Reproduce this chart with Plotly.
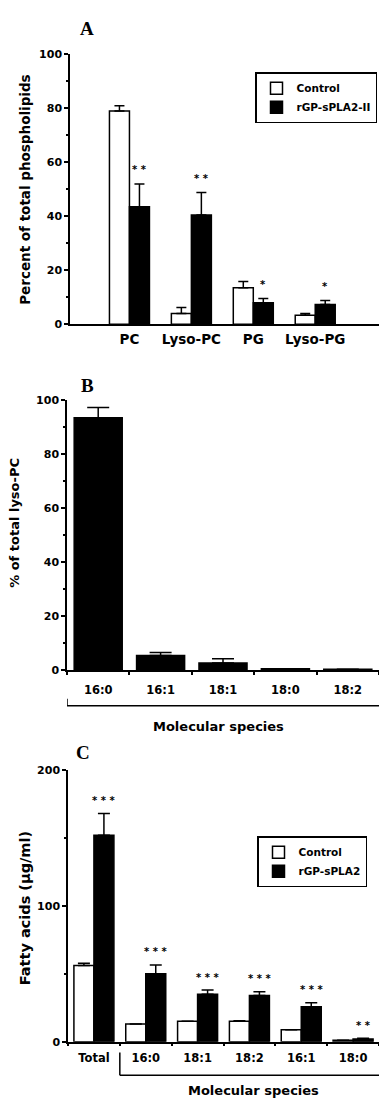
import plotly.graph_objects as go

# ---------------- data ----------------
catsA = ["PC", "Lyso-PC", "PG", "Lyso-PG"]
controlA = [79, 4, 13.5, 3.3]
controlA_err = [2, 2.2, 2.3, 0.7]
rgpA = [43.5, 40.5, 8, 7.3]
rgpA_err = [8.5, 8.3, 1.5, 1.5]
sigA = ["* *", "* *", "*", "*"]

catsB = ["16:0", "16:1", "18:1", "18:0", "18:2"]
valsB = [93.5, 5.4, 2.6, 0.5, 0.3]
errB = [3.8, 1.1, 1.6, 0, 0]

catsC = ["Total", "16:0", "18:1", "18:2", "16:1", "18:0"]
controlC = [56, 13, 15, 15, 8.7, 1]
controlC_err = [1.7, 0, 0, 0.5, 0, 0]
rgpC = [152, 50, 35, 34, 25.7, 2]
rgpC_err = [16, 6.5, 3, 2.7, 3, 0.5]
sigC = ["* * *", "* * *", "* * *", "* * *", "* * *", "* *"]

W, H = 379, 1107
SANS = "DejaVu Sans"
SERIF = "Liberation Serif"
BLACK = "black"

def bf(size, family=SANS):
    return dict(family=family, size=size, color=BLACK, weight="bold")

fig = go.Figure()

# ---------------- panel A ----------------
wA = 0.323
fig.add_trace(go.Bar(
    x=catsA, y=controlA, name="Control", xaxis="x", yaxis="y",
    width=wA, offset=-wA, marker=dict(color="white", line=dict(color=BLACK, width=1.5)),
    error_y=dict(type="data", symmetric=False, array=controlA_err, arrayminus=[0]*4,
                 color=BLACK, thickness=1.5, width=5),
    legend="legend"))
fig.add_trace(go.Bar(
    x=catsA, y=rgpA, name="rGP-sPLA2-II", xaxis="x", yaxis="y",
    width=wA, offset=0, marker=dict(color=BLACK, line=dict(color=BLACK, width=1.5)),
    error_y=dict(type="data", symmetric=False, array=rgpA_err, arrayminus=[0]*4,
                 color=BLACK, thickness=1.5, width=5),
    legend="legend"))

# ---------------- panel B ----------------
fig.add_trace(go.Bar(
    x=catsB, y=valsB, name="lyso-PC", xaxis="x2", yaxis="y2", showlegend=False,
    width=0.77, marker=dict(color=BLACK, line=dict(color=BLACK, width=1.5)),
    error_y=dict(type="data", symmetric=False, array=errB, arrayminus=[0]*5,
                 color=BLACK, thickness=1.5, width=11)))

# ---------------- panel C ----------------
wC = 0.386
fig.add_trace(go.Bar(
    x=catsC, y=controlC, name="Control", xaxis="x3", yaxis="y3",
    width=wC, offset=-wC, marker=dict(color="white", line=dict(color=BLACK, width=1.5)),
    error_y=dict(type="data", symmetric=False, array=controlC_err, arrayminus=[0]*6,
                 color=BLACK, thickness=1.5, width=6),
    legend="legend2"))
fig.add_trace(go.Bar(
    x=catsC, y=rgpC, name="rGP-sPLA2", xaxis="x3", yaxis="y3",
    width=wC, offset=0, marker=dict(color=BLACK, line=dict(color=BLACK, width=1.5)),
    error_y=dict(type="data", symmetric=False, array=rgpC_err, arrayminus=[0]*6,
                 color=BLACK, thickness=1.5, width=6),
    legend="legend2"))

def py(pix):
    return 1 - pix / H

def px(pix):
    return pix / W

common_y = dict(showline=True, linecolor=BLACK, linewidth=1.5, showgrid=False, zeroline=False,
                ticks="outside", ticklen=4, tickwidth=1.5, tickcolor=BLACK, tickfont=bf(11))
common_x = dict(type="category", showline=True, linecolor=BLACK, linewidth=1.5,
                showgrid=False, zeroline=False, fixedrange=True)

fig.update_layout(
    width=W, height=H, margin=dict(l=0, r=0, t=0, b=0),
    paper_bgcolor="white", plot_bgcolor="white",
    barmode="overlay", showlegend=True,
    xaxis=dict(domain=[px(70), 1], anchor="y", range=[-0.96, 4.03], ticks="",
               tickfont=bf(13.5), ticklabelstandoff=2, **common_x),
    yaxis=dict(domain=[py(322), py(49)], anchor="x", range=[0, 100], dtick=20,
               minor=dict(dtick=10, ticks="outside", ticklen=2, tickwidth=1.5, tickcolor=BLACK),
               **common_y),
    xaxis2=dict(domain=[px(67), 1], anchor="y2", range=[-0.5, 4.5], ticks="outside",
                tickson="boundaries", ticklen=3, tickwidth=1.5, tickcolor=BLACK,
                tickfont=bf(11.5), ticklabelstandoff=8, **common_x),
    yaxis2=dict(domain=[py(672), py(399)], anchor="x2", range=[0, 100], dtick=20,
                minor=dict(dtick=10, ticks="outside", ticklen=2, tickwidth=1.5, tickcolor=BLACK),
                **common_y),
    xaxis3=dict(domain=[px(68), 1], anchor="y3", range=[-0.5, 5.5], ticks="outside",
                tickson="boundaries", ticklen=3, tickwidth=1.5, tickcolor=BLACK,
                tickfont=bf(11.5), ticklabelstandoff=5, **common_x),
    yaxis3=dict(domain=[py(1048), py(773)], anchor="x3", range=[0, 200], dtick=100,
                minor=dict(dtick=50, ticks="outside", ticklen=2, tickwidth=1.5, tickcolor=BLACK),
                **common_y),
    legend=dict(x=px(255), y=py(67), xanchor="left", yanchor="top", bgcolor="white",
                bordercolor=BLACK, borderwidth=1.5, font=bf(10.5), tracegroupgap=0),
    legend2=dict(x=px(257), y=py(840), xanchor="left", yanchor="top", bgcolor="white",
                 bordercolor=BLACK, borderwidth=1.5, font=bf(10.5), tracegroupgap=0),
)

def pann(text, x, y, size, family=SANS, angle=0):
    return dict(text=text, x=px(x), y=py(y), xref="paper", yref="paper", showarrow=False,
                xanchor="center", yanchor="middle", textangle=angle, font=bf(size, family))

ann = []
# panel letters
ann.append(pann("A", 87, 23, 19, SERIF))
ann.append(pann("B", 87, 384, 19, SERIF))
ann.append(pann("C", 83, 755, 19, SERIF))
# y titles
ann.append(pann("Percent of total phospholipids", 25, 186, 13.5, angle=-90))
ann.append(pann("% of total lyso-PC", 15, 523, 13, angle=-90))
ann.append(pann("Fatty acids (\u03bcg/ml)", 25, 913, 14.5, angle=-90))
# x titles
ann.append(pann("Molecular species", 218, 729, 13))
ann.append(pann("Molecular species", 253, 1097, 13))
# significance marks
for i, s in enumerate(sigA):
    ann.append(dict(text=s, x=i + wA / 2, y=rgpA[i] + rgpA_err[i], xref="x", yref="y",
                    showarrow=False, xanchor="center", yanchor="middle", yshift=14, font=bf(10)))
for i, s in enumerate(sigC):
    ann.append(dict(text=s, x=i + wC / 2, y=rgpC[i] + rgpC_err[i], xref="x3", yref="y3",
                    showarrow=False, xanchor="center", yanchor="middle", yshift=13, font=bf(10)))
fig.update_layout(annotations=ann)

# brackets under molecular species
ln = dict(color=BLACK, width=1.5)
fig.add_shape(type="line", xref="x2", yref="paper", x0=-0.5, x1=-0.5, y0=py(701), y1=py(708), line=ln)
fig.add_shape(type="line", xref="x2", yref="paper", x0=-0.5, x1=4.5, y0=py(708), y1=py(708), line=ln)
fig.add_shape(type="line", xref="x3", yref="paper", x0=0.5, x1=0.5, y0=py(1059), y1=py(1082), line=ln)
fig.add_shape(type="line", xref="x3", yref="paper", x0=0.5, x1=5.5, y0=py(1082), y1=py(1082), line=ln)

fig.write_html("out.html")
